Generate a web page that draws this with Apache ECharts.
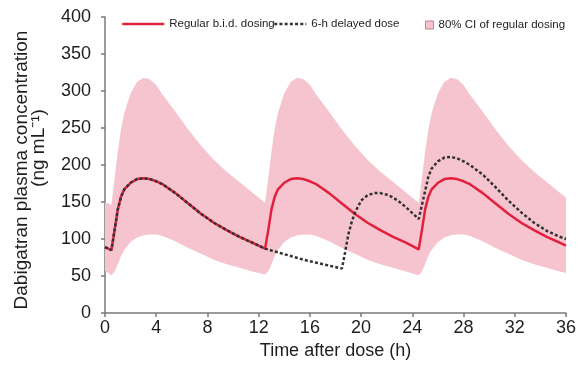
<!DOCTYPE html>
<html><head><meta charset="utf-8">
<script src="https://cdn.jsdelivr.net/npm/echarts@6/dist/echarts.min.js"></script>
<style>html,body{margin:0;padding:0;background:#fff;}#c{width:579px;height:365px;}</style>
</head><body><div id="c"></div>
<script>
// ---- data ----
const xTicks = [0, 4, 8, 12, 16, 20, 24, 28, 32, 36];
const yTicks = [0, 50, 100, 150, 200, 250, 300, 350, 400];

const timeRegular = [0, 0.5, 0.75, 1, 1.25, 1.5, 2, 2.5, 3, 3.5, 4, 4.5, 5.5, 6.5, 7.5, 8.5, 9.5, 10.5, 11.5, 12.5,
  12.75, 13, 13.25, 13.5, 14, 14.5, 15, 15.5, 16, 16.5, 17.5, 18.5, 19.5, 20.5, 21.5, 22.5, 23.5, 24.5,
  24.75, 25, 25.25, 25.5, 26, 26.5, 27, 27.5, 28, 28.5, 29.5, 30.5, 31.5, 32.5, 33.5, 34.5, 35.5, 36];
const regularDosing = [89,
  85, 112, 140, 157, 167, 176, 181, 182, 181, 178, 174, 162, 148, 134, 122, 112, 103, 95, 87,
  112, 140, 157, 167, 176, 181, 182, 181, 178, 174, 162, 148, 134, 122, 112, 103, 95, 86,
  112, 140, 157, 167, 176, 181, 182, 181, 178, 174, 162, 148, 134, 122, 112, 103, 95, 91];
const ciUpper = [150,
  146, 182, 218, 248, 270, 297, 312, 318, 316, 308, 295, 272, 248, 226, 207, 191, 177, 163, 149,
  182, 218, 248, 270, 297, 312, 318, 316, 308, 295, 272, 248, 226, 207, 191, 177, 163, 149,
  182, 218, 248, 270, 297, 312, 318, 316, 308, 295, 272, 248, 226, 207, 191, 177, 163, 156];
const ciLower = [57,
  51, 56, 66, 77, 85, 96, 102, 105, 106, 106, 104, 97, 88, 80, 72, 66, 61, 56, 52,
  56, 66, 77, 85, 96, 102, 105, 106, 106, 104, 97, 88, 80, 72, 66, 61, 56, 51,
  56, 66, 77, 85, 96, 102, 105, 106, 106, 104, 97, 88, 80, 72, 66, 61, 56, 54];

const timeDelayed = [0, 0.5, 0.75, 1, 1.25, 1.5, 2, 2.5, 3, 3.5, 4, 4.5, 5.5, 6.5, 7.5, 8.5, 9.5, 10.5, 11.5, 12.5,
  13.5, 14.5, 15.5, 16.5, 17.5, 18.5,
  18.75, 19, 19.25, 19.5, 20, 20.5, 21, 21.5, 22, 22.5, 23, 23.5, 24, 24.5,
  24.75, 25, 25.25, 25.5, 26, 26.5, 27, 27.5, 28, 28.5, 29.5, 30.5, 31.5, 32.5, 33.5, 34.5, 35.5, 36];
const delayedDose = [89,
  85, 112, 140, 157, 167, 176, 181, 182, 181, 178, 174, 162, 148, 134, 122, 112, 103, 95, 87,
  82, 77, 72, 68, 64, 60,
  82, 106, 122, 135, 152, 159, 162, 162, 160, 156, 150, 143, 135, 127,
  146, 165, 184, 195, 205, 210, 211, 209, 205, 200, 187, 170, 152, 136, 122, 111, 103, 100];

const seriesNames = ['Regular b.i.d. dosing', '6-h delayed dose', '80% CI of regular dosing'];

// ---- chart ----
const FONT = '"Liberation Sans", Arial, Helvetica, sans-serif';
const RED = '#e3203c', DASH = '#333333', PINK = '#f6c4ce', AXIS = '#7a7a7a', TXT = '#1e1e1e';
const chart = echarts.init(document.getElementById('c'), null, {renderer: 'canvas'});

const pair = (ts, vs) => ts.map((t, i) => [t, vs[i]]);

const legendBase = {
  top: 18, itemHeight: 10, padding: 0, selectedMode: false,
  itemStyle: {color: 'rgba(0,0,0,0)', borderWidth: 0, opacity: 0},
  textStyle: {fontFamily: FONT, fontSize: 11.5, color: TXT}
};

chart.setOption({
  animation: false,
  backgroundColor: '#fff',
  grid: {left: 105, right: 10, top: 17, bottom: 52, containLabel: false},
  legend: [
    Object.assign({}, legendBase, {left: 121, itemWidth: 42, data: [{name: seriesNames[0]}],
      lineStyle: {width: 2.5, color: RED}}),
    Object.assign({}, legendBase, {left: 273, itemWidth: 32, data: [{name: seriesNames[1]}],
      lineStyle: {width: 2.5, color: DASH, type: [3, 2.2]}}),
    {top: 19, left: 425, itemWidth: 8, itemHeight: 8, padding: 0, selectedMode: false,
      textStyle: {fontFamily: FONT, fontSize: 11.5, color: TXT},
      data: [{name: seriesNames[2], icon: 'rect',
        itemStyle: {color: PINK, borderColor: '#c0808c', borderWidth: 1, opacity: 1}}]}
  ],
  xAxis: {
    type: 'value', min: xTicks[0], max: xTicks[xTicks.length - 1], interval: xTicks[1] - xTicks[0],
    offset: 2,
    name: 'Time after dose (h)', nameLocation: 'middle', nameGap: 14,
    nameTextStyle: {fontFamily: FONT, fontSize: 18, color: TXT},
    axisLine: {lineStyle: {color: AXIS, width: 1.5}},
    axisTick: {show: true, length: 4, lineStyle: {color: AXIS, width: 1.5}},
    axisLabel: {fontFamily: FONT, fontSize: 18, color: TXT, margin: 4},
    splitLine: {show: false}
  },
  yAxis: {
    type: 'value', min: yTicks[0], max: yTicks[yTicks.length - 1], interval: yTicks[1] - yTicks[0],
    offset: 5,
    axisLine: {show: true, lineStyle: {color: AXIS, width: 1.5}},
    axisTick: {show: true, length: 4, lineStyle: {color: AXIS, width: 1.5}},
    axisLabel: {fontFamily: FONT, fontSize: 18, color: TXT, margin: 9},
    splitLine: {show: false}
  },
  graphic: [
    {type: 'text', x: 22, y: 170, rotation: Math.PI / 2,
      style: {text: 'Dabigatran plasma concentration', fontFamily: FONT, fontSize: 19, fill: TXT,
        textAlign: 'center', textVerticalAlign: 'middle'}},
    {type: 'text', x: 39, y: 148, rotation: Math.PI / 2,
      style: {text: '(ng mL\u207B\u00B9)', fontFamily: FONT, fontSize: 19, fill: TXT,
        textAlign: 'center', textVerticalAlign: 'middle'}}
  ],
  series: [
    {name: seriesNames[2], type: 'custom', coordinateSystem: 'cartesian2d', silent: true, z: 1,
      itemStyle: {color: PINK},
      data: timeRegular.map((t, i) => [t, ciLower[i], ciUpper[i]]),
      encode: {x: 0, y: [1, 2]},
      renderItem: function (params, api) {
        if (params.dataIndex !== 0) return null;
        const pts = [];
        for (let i = 0; i < timeRegular.length; i++) pts.push(api.coord([timeRegular[i], ciUpper[i]]));
        for (let i = timeRegular.length - 1; i >= 0; i--) pts.push(api.coord([timeRegular[i], ciLower[i]]));
        return {type: 'polygon', shape: {points: pts}, style: {fill: PINK}};
      }},
    {name: seriesNames[0], type: 'line', data: pair(timeRegular, regularDosing),
      symbol: 'none', lineStyle: {color: RED, width: 2.5}, itemStyle: {color: RED}, z: 3},
    {name: seriesNames[1], type: 'line', data: pair(timeDelayed, delayedDose),
      symbol: 'none', lineStyle: {color: DASH, width: 2.5, type: [3, 2.2]}, itemStyle: {color: DASH}, z: 4}
  ]
});
</script></body></html>
